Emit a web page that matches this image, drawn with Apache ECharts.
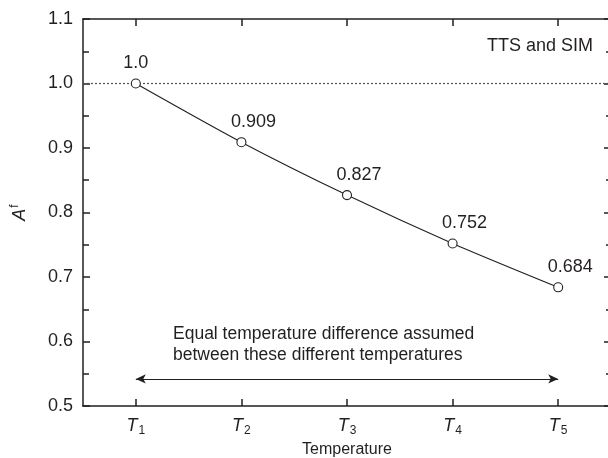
<!DOCTYPE html>
<html>
<head>
<meta charset="utf-8">
<script src="https://cdn.jsdelivr.net/npm/echarts@6/dist/echarts.min.js"></script>
<style>
html,body{margin:0;padding:0;background:#fff;}
#c{width:608px;height:458px;}
</style>
</head>
<body>
<div id="c"></div>
<script>
// ---- data ----
const categories = ['1', '2', '3', '4', '5'];          // subscripts of T
const afValues = [1.0, 0.909, 0.827, 0.752, 0.684];
const afLabels = ['1.0', '0.909', '0.827', '0.752', '0.684'];
const yTicks = [0.5, 0.6, 0.7, 0.8, 0.9, 1.0, 1.1];
const refLevel = 1.0;
const arrowLevel = 0.542;
const cornerNote = 'TTS and SIM';
const noteLines = ['Equal temperature difference assumed', 'between these different temperatures'];

const FONT = '"Liberation Sans", Arial, Helvetica, sans-serif';
const INK = '#231f20';

const chart = echarts.init(document.getElementById('c'), null, {renderer: 'canvas'});

const axisCommon = {
  axisLine: {show: true, onZero: false, lineStyle: {color: INK, width: 1.5}},
  splitLine: {show: false}
};

const option = {
  animation: false,
  backgroundColor: '#fff',
  textStyle: {fontFamily: FONT, color: INK},
  grid: {left: 83, top: 19, right: -3, bottom: 52, containLabel: false, outerBoundsMode: 'none'},
  xAxis: [
    Object.assign({}, axisCommon, {
      type: 'category',
      data: categories,
      boundaryGap: true,
      position: 'bottom',
      axisTick: {show: true, inside: true, alignWithLabel: true, length: 7, lineStyle: {color: INK, width: 1.5}},
      axisLabel: {
        margin: 9,
        formatter: v => '{t|T}{s|' + v + '}',
        rich: {
          t: {fontFamily: FONT, fontStyle: 'italic', fontSize: 18, color: INK},
          s: {fontFamily: FONT, fontSize: 12, color: INK, padding: [10, 0, 0, 1]}
        }
      },
      name: 'Temperature',
      nameLocation: 'middle',
      nameGap: 33,
      nameTextStyle: {fontFamily: FONT, fontSize: 16, color: INK}
    }),
    Object.assign({}, axisCommon, {
      type: 'category',
      data: categories,
      boundaryGap: true,
      position: 'top',
      axisTick: {show: true, inside: true, alignWithLabel: true, length: 7, lineStyle: {color: INK, width: 1.5}},
      axisLabel: {show: false}
    })
  ],
  yAxis: [
    Object.assign({}, axisCommon, {
      type: 'value',
      position: 'left',
      min: yTicks[0], max: yTicks[yTicks.length - 1], interval: 0.1,
      axisTick: {show: true, inside: true, length: 7, lineStyle: {color: INK, width: 1.5}},
      minorTick: {show: true, splitNumber: 2, length: 6, lineStyle: {color: INK, width: 1.5}},
      axisLabel: {
        margin: 10,
        fontFamily: FONT, fontSize: 18, color: INK,
        formatter: v => v.toFixed(1)
      },
      name: '{a|A}{f|f}',
      nameLocation: 'middle',
      nameRotate: 90,
      nameGap: 52,
      nameTextStyle: {
        rich: {
          a: {fontFamily: FONT, fontStyle: 'italic', fontSize: 18, color: INK},
          f: {fontFamily: FONT, fontSize: 12, color: INK, padding: [0, 0, 10, 1]}
        }
      }
    }),
    Object.assign({}, axisCommon, {
      type: 'value',
      position: 'right',
      min: yTicks[0], max: yTicks[yTicks.length - 1], interval: 0.1,
      axisTick: {show: true, inside: true, length: 7, lineStyle: {color: INK, width: 1.5}},
      minorTick: {show: true, splitNumber: 2, length: 5, lineStyle: {color: INK, width: 1.5}},
      axisLabel: {show: false}
    })
  ],
  series: [
    {
      type: 'line',
      name: 'ref',
      data: [],
      silent: true,
      markLine: {
        silent: true,
        symbol: ['none', 'none'],
        label: {show: false},
        lineStyle: {color: '#555', type: [2, 2], width: 1.2},
        data: [{yAxis: refLevel}]
      }
    },
    {
      type: 'line',
      name: 'arrow',
      data: [],
      silent: true,
      markLine: {
        silent: true,
        symbol: ['arrow', 'arrow'],
        symbolSize: [7, 10],
        label: {show: false},
        lineStyle: {color: INK, type: 'solid', width: 1.2},
        data: [[{coord: [categories[0], arrowLevel]}, {coord: [categories[categories.length - 1], arrowLevel]}]]
      }
    },
    {
      type: 'line',
      name: 'Af',
      smooth: 0.25,
      symbol: 'circle',
      symbolSize: 9,
      lineStyle: {color: INK, width: 1.1},
      itemStyle: {color: '#fff', borderColor: INK, borderWidth: 1.1},
      z: 5,
      data: afValues.map((v, i) => ({
        value: v,
        label: {offset: i === 0 ? [0, 0] : [12, 0]}
      })),
      label: {
        show: true,
        position: 'top',
        distance: 6,
        fontFamily: FONT, fontSize: 18, color: INK,
        formatter: p => afLabels[p.dataIndex]
      }
    }
  ],
  graphic: [
    {
      type: 'text',
      right: 15, top: 37,
      style: {text: cornerNote, fontFamily: FONT, fontSize: 18, fill: INK}
    },
    {
      type: 'text',
      left: 173, top: 324,
      style: {text: noteLines.join('\n'), fontFamily: FONT, fontSize: 17.5, lineHeight: 21, fill: INK}
    }
  ]
};

chart.setOption(option);
</script>
</body>
</html>
